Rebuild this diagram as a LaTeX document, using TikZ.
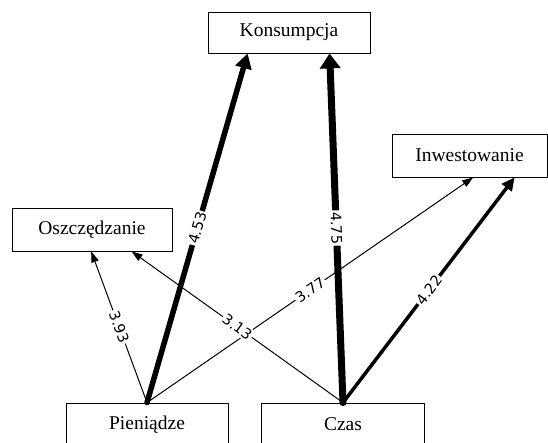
\documentclass[tikz,border=0pt]{standalone}
\usepackage{fontspec}
\setmainfont{Liberation Serif}
\newfontfamily\lblfont{DejaVu Sans}
\usetikzlibrary{arrows.meta}

\begin{document}
\begin{tikzpicture}[x=1pt,y=-1pt,
  box/.style={draw, line width=0.8pt, inner sep=0pt, minimum height=42pt,
    font=\fontsize{19.5}{22}\selectfont},
  lbl/.style={fill=white, inner sep=1.5pt, sloped, pos=0.5,
    font=\lblfont\fontsize{14.5}{16}\selectfont},
  thin/.style={line width=1pt, -{Triangle[length=11pt,width=7.5pt]}},
  mid/.style={line width=3.5pt, line cap=round, -{Triangle[length=13pt,width=12pt]}},
  thick/.style={line width=5.5pt, line cap=round, -{Triangle[length=15pt,width=16pt]}},
  heavy/.style={line width=7pt, line cap=round, -{Triangle[length=15pt,width=20pt]}}
]
\useasboundingbox (0,0) rectangle (548,442);
\clip (0,0) rectangle (548,442);

% boxes
\node[box, minimum width=162pt, minimum height=41pt] (kons) at (289,32.5) {Konsumpcja};
\node[box, minimum width=160pt, minimum height=43pt] (osz)  at (92,229.5) {Oszczędzanie};
\node[box, minimum width=155pt, minimum height=43pt] (inw)  at (469.5,155.5) {Inwestowanie};
\node[box, minimum width=162pt, minimum height=43pt] (pien) at (147,424.5) {Pieniądze};
\node[box, minimum width=163pt, minimum height=43pt] (czas) at (343,424.5) {Czas};

% arrow end points on the lower edges of the target boxes
\coordinate (k1) at ([xshift=40pt]kons.south west);
\coordinate (k2) at ([xshift=122pt]kons.south west);
\coordinate (i1) at ([xshift=81.6pt]inw.south west);
\coordinate (i2) at ([xshift=123pt]inw.south west);
\coordinate (o1) at ([xshift=79.6pt]osz.south west);
\coordinate (o2) at ([xshift=120pt]osz.south west);

% connectors
\draw[thin]  (pien.north) -- (o1);
\draw[thin]  (pien.north) -- (i1);
\draw[thin]  (czas.north) -- (o2);
\draw[mid]   (czas.north) -- (i2);
\draw[thick] (pien.north) -- (k1);
\draw[heavy] (czas.north) -- (k2);

% weights on top of all connectors
\path (pien.north) -- (o1) node[lbl] {3.93};
\path (pien.north) -- (i1) node[lbl] {3.77};
\path (czas.north) -- (o2) node[lbl] {3.13};
\path (czas.north) -- (i2) node[lbl] {4.22};
\path (pien.north) -- (k1) node[lbl] {4.53};
\path (czas.north) -- (k2) node[lbl] {4.75};
\end{tikzpicture}
\end{document}
